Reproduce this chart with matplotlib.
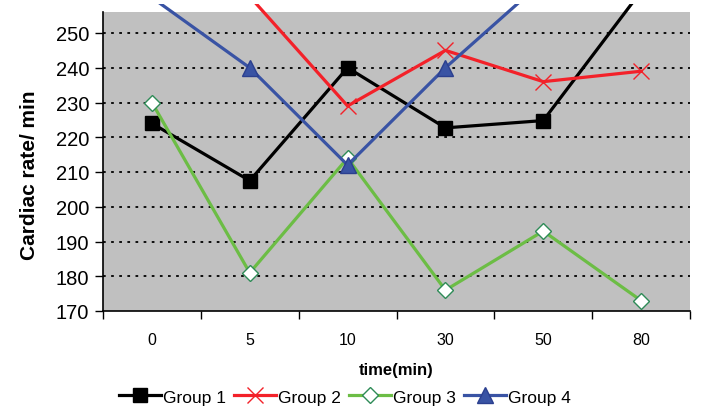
import matplotlib
matplotlib.use("Agg")
import matplotlib.pyplot as plt
import numpy as np

categories = ["0", "5", "10", "30", "50", "80"]
group1 = [224, 207.5, 240, 222.7, 224.8, 262]
group2 = [268, 260.5, 229, 245, 236, 239]
group3 = [230, 181, 214, 176, 193, 173]
group4 = [260.2, 240, 212, 240, 265, 270]

plt.rcParams['font.family'] = ['Liberation Sans', 'DejaVu Sans']

# axes spans from pixel y=5 (line clipping edge) to y=312 (value 170); grey area ends at 256
px_per_unit = 34.75 / 10
top_px, bot_px = 5, 312
ymin = 170
ymax_clip = ymin + (bot_px - top_px) / px_per_unit
ymax_area = 256

fig = plt.figure(figsize=(7.01, 4.10), dpi=100)
ax = fig.add_axes([103/701, 1-bot_px/410, (690-103)/701, (bot_px-top_px)/410])
ax.set_facecolor('none')
ax.axhspan(ymin, ymax_area, xmin=0, xmax=1, facecolor='#C0C0C0', edgecolor='none', zorder=0)

x = np.arange(len(categories))
series = [
    (group1, 'Group 1', dict(color='black', marker='s', markersize=10, markerfacecolor='black', markeredgecolor='black')),
    (group2, 'Group 2', dict(color='#F32129', marker='x', markersize=11, markeredgewidth=1.0, markeredgecolor='#F32129')),
    (group3, 'Group 3', dict(color='#6CBD45', marker='D', markersize=8, markerfacecolor='white', markeredgecolor='#2E8B57', markeredgewidth=1.0)),
    (group4, 'Group 4', dict(color='#3953A4', marker='^', markersize=11, markerfacecolor='#3953A4', markeredgecolor='#2B3F8F')),
]
for vals, lab, kw in series:
    shown = [i for i, v in enumerate(vals) if v <= ymax_area]
    ax.plot(x, vals, label=lab, linewidth=2.3, zorder=3, markevery=shown, **kw)

ax.set_xlim(-0.5, 5.5)
ax.set_ylim(ymin, ymax_clip)
ax.set_yticks(np.arange(170, 251, 10))
for v in range(180, 251, 10):
    ax.axhline(v, color='black', linestyle=(0, (1.5, 3)), linewidth=1.3, zorder=1)

ax.set_xticks(x)
ax.set_xticklabels(categories, fontsize=11.5)
ax.set_xticks(np.arange(-0.5, 6, 1), minor=True)
ax.tick_params(axis='x', which='major', length=0, pad=15)
ax.tick_params(axis='x', which='minor', length=6, width=1, direction='out')
ax.tick_params(axis='y', which='major', length=6, width=1, direction='out', labelsize=14.5, pad=4)

for s in ['top', 'right']:
    ax.spines[s].set_visible(False)
for s in ['left', 'bottom']:
    ax.spines[s].set_linewidth(1.2)
ax.spines['left'].set_bounds(ymin, ymax_area)

ax.set_xlabel('time(min)', fontsize=12, fontweight='bold', labelpad=11)
ax.set_ylabel('Cardiac rate/ min', fontsize=15, fontweight='bold', labelpad=12)
ax.yaxis.label.set_position((0, 1 - (175 - top_px) / (bot_px - top_px)))

fig.legend(loc='center', bbox_to_anchor=(345/701, 1-398/410), ncol=4, frameon=False,
           fontsize=12.5, handlelength=2.4, handletextpad=0.15, columnspacing=0.45)

fig.savefig('out.png', dpi=100)
